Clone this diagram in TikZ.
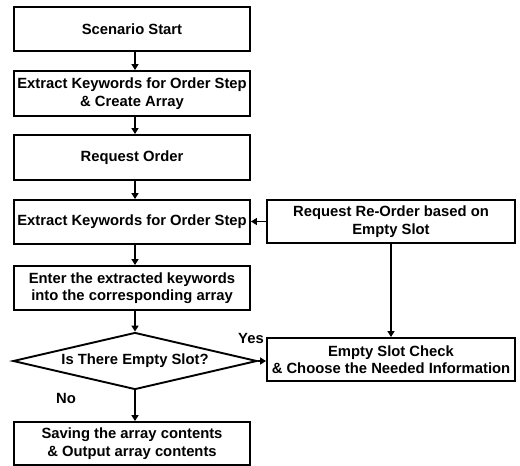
\documentclass[tikz,border=0pt]{standalone}
\usepackage{fontspec}
\setmainfont{Liberation Sans}
\usetikzlibrary{shapes.geometric,arrows.meta}
\begin{document}
\begin{tikzpicture}[x=1pt,y=-1pt,
  font=\fontsize{14.8}{17.5}\selectfont\bfseries,
  box/.style={draw,line width=1.9pt,rectangle,inner sep=0pt,align=center},
  lbox/.style={box,minimum width=236pt},
  rbox/.style={box,minimum width=248pt,minimum height=43pt},
  decision/.style={draw,line width=1.9pt,diamond,aspect=4.28,inner sep=0pt,
    minimum width=244pt,minimum height=57pt},
  arr/.style={line width=1.9pt,-{Triangle[length=6pt,width=7pt]}},
  lbl/.style={inner sep=0pt}]
\useasboundingbox (0,0) rectangle (520,466);

% main column
\node[lbox,minimum height=44pt] (start) at (132,29) {Scenario Start};
\node[lbox,minimum height=45pt] (create) at (132,93.5) {Extract Keywords for Order Step\\\& Create Array};
\node[lbox,minimum height=45pt] (req) at (132,157.5) {Request Order};
\node[lbox,minimum height=44pt] (extract) at (132,222) {Extract Keywords for Order Step};
\node[lbox,minimum height=44pt] (enter) at (132,288) {Enter the extracted keywords\\into the corresponding array};
\node[decision] (empty) at (135,361) {Is There Empty Slot?};
\node[lbox,minimum height=43pt] (save) at (132,443.5) {Saving the array contents\\\& Output array contents};

% side column
\node[rbox] (reorder) at (391,221.5) {Request Re-Order based on\\Empty Slot};
\node[rbox] (check) at (391,359.5) {Empty Slot Check\\\& Choose the Needed Information};

% vertical flow
\draw[arr] (start.south -| empty.north) -- (create.north -| empty.north);
\draw[arr] (create.south -| empty.north) -- (req.north -| empty.north);
\draw[arr] (req.south -| empty.north) -- (extract.north -| empty.north);
\draw[arr] (extract.south -| empty.north) -- (enter.north -| empty.north);
\draw[arr] (enter.south -| empty.north) -- (empty.north);
\draw[arr] (empty.south) -- (save.north -| empty.south);

% branches
\draw[arr] (empty.east) -- (empty.east -| check.west);
\draw[arr] (reorder.west) -- (reorder.west -| extract.east);
\draw[arr] (reorder.south) -- (check.north);

% branch labels
\node[lbl] (yes) at (251,338) {Yes};
\node[lbl] (no) at (66,398) {No};
\end{tikzpicture}
\end{document}
